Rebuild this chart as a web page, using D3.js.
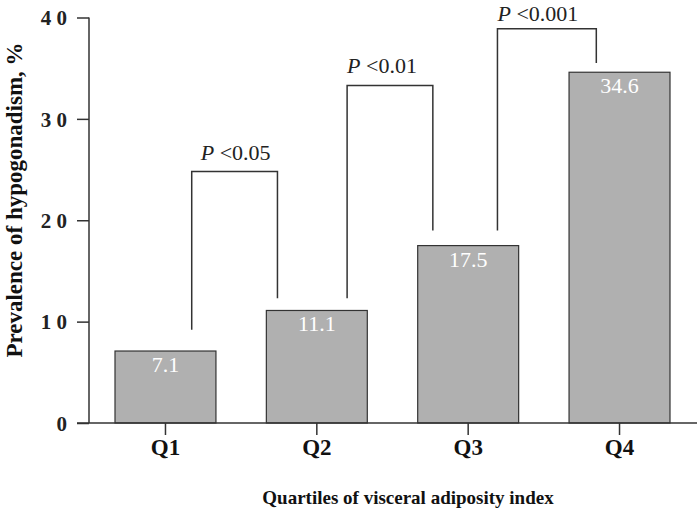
<!DOCTYPE html>
<html>
<head>
<meta charset="utf-8">
<script src="https://cdn.jsdelivr.net/npm/d3@7"></script>
<style>
  body { margin: 0; background: #fff; }
  svg { display: block; }
  text { font-family: "Liberation Serif", "Times New Roman", serif; }
</style>
</head>
<body>
<svg id="chart" width="700" height="512"></svg>
<script>
// ---- data ----
const categories = ["Q1", "Q2", "Q3", "Q4"];
const prevalence = [7.1, 11.1, 17.5, 34.6];
const yTicks = [0, 10, 20, 30, 40];
const yTickLabels = ["0", "1 0", "2 0", "3 0", "4 0"];
const yTitle = "Prevalence of hypogonadism, %";
const xTitle = "Quartiles of visceral adiposity index";
// comparisons: from category, to category, p-label, bracket top, left leg end, right leg end (y units)
const compFrom = ["Q1", "Q2", "Q3"];
const compTo = ["Q2", "Q3", "Q4"];
const compLabel = ["<0.05", "<0.01", "<0.001"];
const compTop = [24.8, 33.3, 38.9];
const compLeftEnd = [9.2, 12.3, 19.0];
const compRightEnd = [12.3, 19.0, 35.5];

// ---- layout ----
const svg = d3.select("#chart");
const baseY = 423, topY = 17.5;
const y = d3.scaleLinear().domain([0, 40]).range([baseY, topY]);
const x = d3.scaleBand().domain(categories).range([115, 670]).paddingInner(0.333).paddingOuter(0);
const axisX = 89;

// bracket leg offsets relative to band centre (fraction of bandwidth)
const legLeftOff = [0.26, 0.30, 0.29];
const legRightOff = [-0.39, -0.35, -0.23];
const labelShift = [9, 0, 0];
const labelRise = [12, 12, 8];

// bars
svg.append("g").selectAll("rect").data(categories).join("rect")
  .attr("x", d => x(d))
  .attr("y", (d, i) => y(prevalence[i]))
  .attr("width", x.bandwidth())
  .attr("height", (d, i) => baseY - y(prevalence[i]))
  .attr("fill", "#b0b0b0")
  .attr("stroke", "#333")
  .attr("stroke-width", 1.2);

// value labels
svg.append("g").selectAll("text").data(categories).join("text")
  .attr("x", d => x(d) + x.bandwidth() / 2)
  .attr("y", (d, i) => y(prevalence[i]) + 21)
  .attr("text-anchor", "middle")
  .attr("fill", "#fff")
  .attr("font-size", 22)
  .text((d, i) => prevalence[i].toFixed(1));

// y axis
const yAxis = d3.axisLeft(y).tickValues(yTicks).tickSize(12).tickFormat((d, i) => yTickLabels[i]);
const gy = svg.append("g").attr("transform", `translate(${axisX},0)`).call(yAxis);
gy.attr("font-family", null);
gy.select(".domain").attr("d", `M0,${y(40)}V${baseY}`).attr("stroke", "#333").attr("stroke-width", 1.5);
gy.selectAll(".tick line").attr("stroke", "#333").attr("stroke-width", 1.5);
gy.selectAll(".tick text")
  .attr("x", -22).attr("dy", "0.35em")
  .attr("font-size", 21).attr("font-weight", "bold")
  .attr("fill", "#222");

// x axis
const xAxis = d3.axisBottom(x).tickSize(12).tickSizeOuter(0);
const gx = svg.append("g").attr("transform", `translate(0,${baseY})`).call(xAxis);
gx.attr("font-family", null);
gx.select(".domain").attr("d", `M${axisX - 12},0H697`).attr("stroke", "#333").attr("stroke-width", 1.5);
gx.selectAll(".tick line").attr("stroke", "#333").attr("stroke-width", 1.5);
gx.selectAll(".tick text")
  .attr("y", 32).attr("dy", 0)
  .attr("font-size", 23).attr("font-weight", "bold")
  .attr("fill", "#111");

// brackets
const bx = svg.append("g");
compFrom.forEach((f, i) => {
  const x1 = x(f) + x.bandwidth() / 2 + legLeftOff[i] * x.bandwidth();
  const x2 = x(compTo[i]) + x.bandwidth() / 2 + legRightOff[i] * x.bandwidth();
  const path = d3.path();
  path.moveTo(x1, y(compLeftEnd[i]));
  path.lineTo(x1, y(compTop[i]));
  path.lineTo(x2, y(compTop[i]));
  path.lineTo(x2, y(compRightEnd[i]));
  bx.append("path").attr("d", path.toString())
    .attr("fill", "none").attr("stroke", "#333").attr("stroke-width", 1.5);
  const t = bx.append("text")
    .attr("x", x1 + labelShift[i])
    .attr("y", y(compTop[i]) - labelRise[i])
    .attr("text-anchor", "start")
    .attr("font-size", 22)
    .attr("fill", "#222");
  t.append("tspan").attr("font-style", "italic").text("P");
  t.append("tspan").text(" " + compLabel[i]);
});

// axis titles
svg.append("text")
  .attr("transform", `translate(22,200) rotate(-90)`)
  .attr("text-anchor", "middle")
  .attr("font-size", 23).attr("font-weight", "bold")
  .attr("fill", "#111")
  .text(yTitle);

svg.append("text")
  .attr("x", 408).attr("y", 504)
  .attr("text-anchor", "middle")
  .attr("font-size", 19).attr("font-weight", "bold")
  .attr("fill", "#111")
  .text(xTitle);
</script>
</body>
</html>
